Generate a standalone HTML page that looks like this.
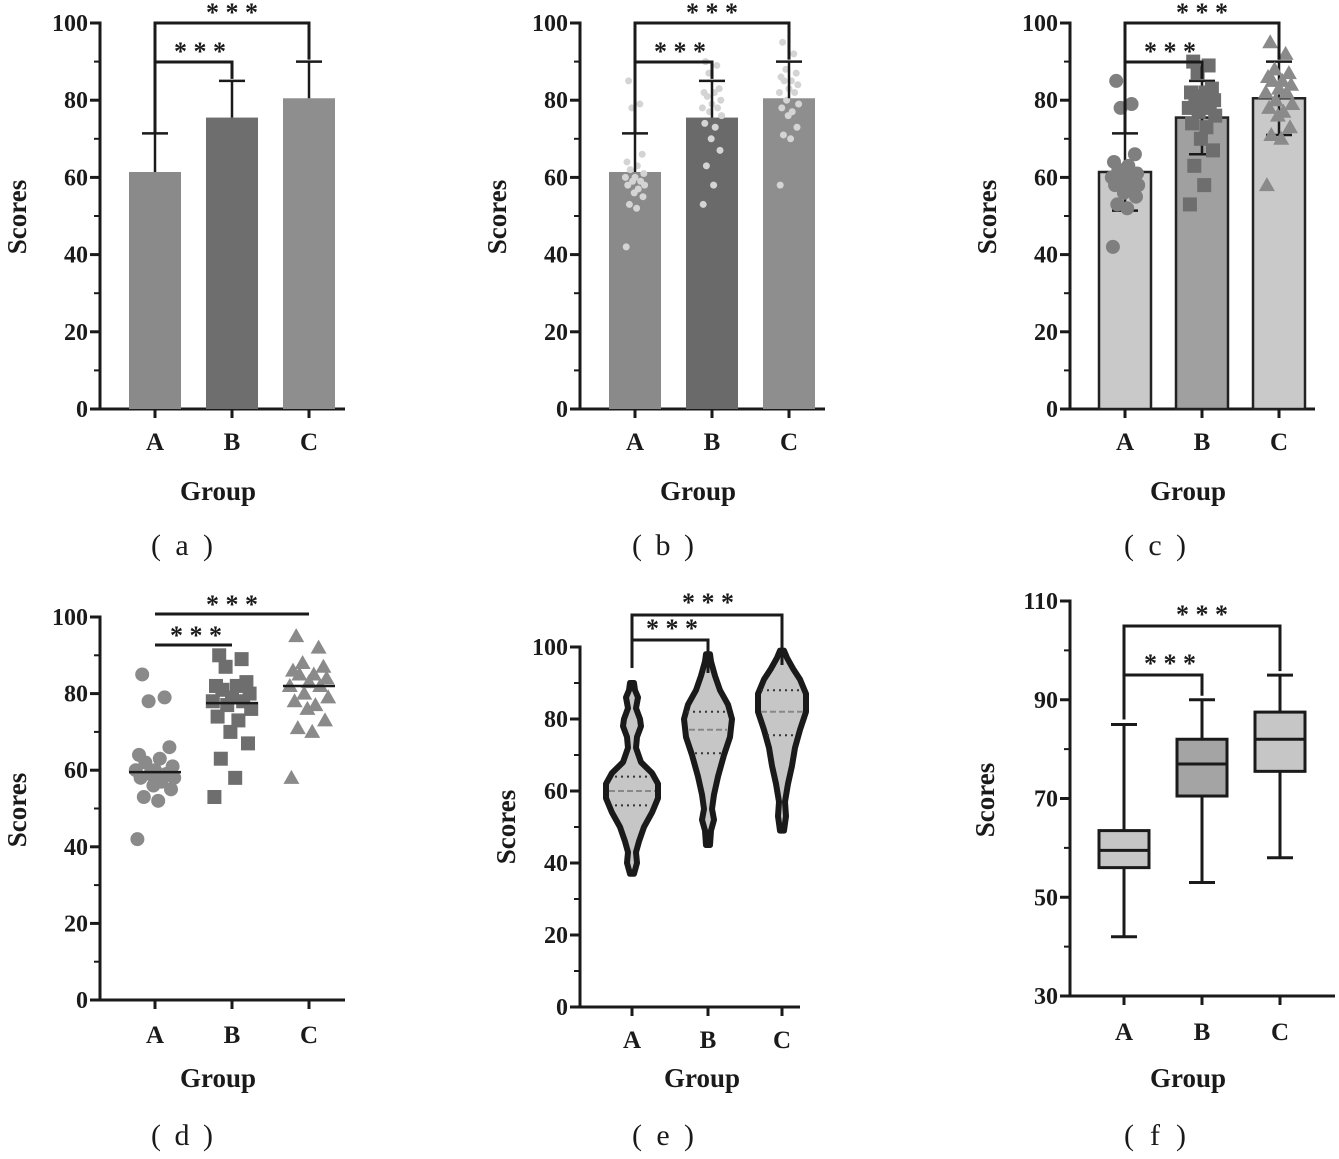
<!DOCTYPE html><html><head><meta charset="utf-8"><style>body{margin:0;background:#fff}svg{display:block}text{font-family:"Liberation Serif",serif;font-weight:bold;fill:#1a1a1a}</style></head><body>
<svg id="s" width="1339" height="1159" viewBox="0 0 1339 1159" xmlns="http://www.w3.org/2000/svg"></svg>
<script>
let o='';const S=document.getElementById('s');
function L(x1,y1,x2,y2,w=3,c='#1a1a1a',d=''){o+=`<line x1="${x1}" y1="${y1}" x2="${x2}" y2="${y2}" stroke="${c}" stroke-width="${w}" ${d?`stroke-dasharray="${d}"`:''}/>`}
function T(x,y,t,sz=22,a='middle',extra=''){o+=`<text x="${x}" y="${y}" font-size="${sz}" text-anchor="${a}" ${extra}>${t}</text>`}
function axes(ax,y0,yTop,xEnd,ticks,vmin,vmax,minor){
 const sc=(y0-yTop)/(vmax-vmin);
 L(ax,y0+1.5,ax,yTop-1.5,3);L(ax-1.5,y0,xEnd,y0,3);
 ticks.forEach(v=>{const y=y0-(v-vmin)*sc;L(ax-10,y,ax,y,3);T(ax-12,y+8,v,24,'end')});
 for(let v=vmin+minor;v<vmax;v+=minor){if(ticks.includes(v))continue;const y=y0-(v-vmin)*sc;L(ax-6,y,ax,y,2)}
 return v=>y0-(v-vmin)*sc;
}
function xlabels(xs,y0,ly){['A','B','C'].forEach((t,i)=>{L(xs[i],y0,xs[i],y0+9,3);T(xs[i],ly,t,25)})}
function labels(cx,gy,sx,sy,cap,cy,capx){T(cx,gy,'Group',27);o+=`<text x="${sx+12}" y="${sy}" font-size="27" text-anchor="middle" transform="rotate(-90 ${sx+12} ${sy})">Scores</text>`;
 o+=`<text x="${capx-26}" y="${cy}" font-size="30" style="font-weight:normal" text-anchor="middle">(</text><text x="${capx}" y="${cy}" font-size="30" style="font-weight:normal" text-anchor="middle">${cap}</text><text x="${capx+26}" y="${cy}" font-size="30" style="font-weight:normal" text-anchor="middle">)</text>`}
function stars(x,y){T(x,y,'* * *',26)}
function bracket(x1,y1,x2,y2,yb,w=3){o+=`<polyline points="${x1},${y1} ${x1},${yb} ${x2},${yb} ${x2},${y2}" fill="none" stroke="#1a1a1a" stroke-width="${w}"/>`}
const A=[85,79,78,66,64,63,62,61,60,60,59,59,58,58,57,56,55,53,52,42],
B=[90,89,87,83,82,82,81,80,79,78,78,77,76,74,73,70,67,63,58,53],
C=[95,92,88,87,86,85,85,84,83,82,82,80,79,78,77,76,73,71,70,58];
const jit=[-8,6,-4,9,-10,3,-6,11,0,-12,7,-3,12,-9,4,-1,10,-7,2,-11];
function barPanel(ax,type,capx){
 const y=axes(ax,409,23,ax+245,[0,20,40,60,80,100],0,100,10);
 const xs=[ax+55,ax+132,ax+209];
 const m=[61.4,75.5,80.5],sd=[10,9.5,9.5];
 const cols=type==0?['#8a8a8a','#6e6e6e','#8e8e8e']:type==1?['#8a8a8a','#6a6a6a','#8e8e8e']:['#c9c9c9','#a0a0a0','#c9c9c9'];
 xs.forEach((x,i)=>{o+=`<rect x="${x-26}" y="${y(m[i])}" width="52" height="${409-y(m[i])}" fill="${cols[i]}" ${type==2?'stroke="#222" stroke-width="2.5"':''}/>`});
 const data=[A,B,C];
 if(type==1){data.forEach((d,i)=>d.forEach((v,k)=>o+=`<circle cx="${xs[i]+jit[k]*0.8}" cy="${y(v)}" r="3.5" fill="#d4d4d4"/>`))}
 xs.forEach((x,i)=>{const t=y(m[i]+sd[i]);L(x,y(m[i]),x,t,2.5);L(x-13,t,x+13,t,2.5);if(type==2){const b=y(m[i]-sd[i]);L(x,y(m[i]),x,b,2.5);L(x-13,b,x+13,b,2.5)}});
 if(type==2){const mc=['#7f7f7f','#6e6e6e','#8a8a8a'];
  data.forEach((d,i)=>d.forEach((v,k)=>{const cx=xs[i]+jit[k]*1.1,cy=y(v);
   if(i==0)o+=`<circle cx="${cx}" cy="${cy}" r="7" fill="${mc[0]}"/>`;
   else if(i==1)o+=`<rect x="${cx-7}" y="${cy-7}" width="14" height="14" fill="${mc[1]}"/>`;
   else o+=`<polygon points="${cx},${cy-8} ${cx+8},${cy+6} ${cx-8},${cy+6}" fill="${mc[2]}"/>`}))}
 bracket(xs[0],y(71.4),xs[1],y(85)-2,62);bracket(xs[0],y(71.4),xs[2],y(90)-2,23);
 stars(ax+100,60);stars(ax+132,21);
 xlabels(xs,409,450);labels(ax+118,500,ax-86,217,['a','b','c'][type],555,capx);
}
barPanel(100,0,182);barPanel(580,1,663);barPanel(1070,2,1155);
{const ax=100,y=axes(ax,1000,617,ax+245,[0,20,40,60,80,100],0,100,10);const xs=[155,232,309];
 [A,B,C].forEach((d,i)=>d.forEach((v,k)=>{const cx=xs[i]+jit[k]*1.6,cy=y(v);
  if(i==0)o+=`<circle cx="${cx}" cy="${cy}" r="7" fill="#8a8a8a"/>`;
  else if(i==1)o+=`<rect x="${cx-7}" y="${cy-7}" width="14" height="14" fill="#6e6e6e"/>`;
  else o+=`<polygon points="${cx},${cy-8} ${cx+8},${cy+6} ${cx-8},${cy+6}" fill="#8a8a8a"/>`}));
 [59.5,77.5,82].forEach((v,i)=>L(xs[i]-26,y(v),xs[i]+26,y(v),2.5));
 L(155,645,232,645,3);L(155,614,309,614,3);stars(196,644);stars(232,613);
 xlabels(xs,1000,1043);labels(218,1087,14,810,'d',1145,182);}
{const ax=580,y=axes(ax,1007,647,ax+220,[0,20,40,60,80,100],0,100,10);const xs=[632,708,782];
 const P=[[[37,2],[40,5],[43,4],[46,7],[50,12],[54,20],[58,26],[62,26],[65,20],[68,9],[72,4],[75,5],[78,9],[80,8],[83,4],[86,6],[88,3],[90,2]],
 [[45,2],[49,3],[52,6],[55,4],[59,6],[64,10],[70,16],[75,22],[80,24],[84,20],[88,12],[92,7],[96,3],[98,2]],
 [[49,2],[53,4],[57,3],[62,6],[67,10],[72,13],[77,18],[82,24],[87,24],[91,18],[94,11],[97,5],[99,2]]];
 const q=[[56,60,64],[70.5,77,82],[75.5,82,88]];
 P.forEach((p,i)=>{const x=xs[i];let r=p.map(a=>`${x+a[1]},${y(a[0])}`),l=p.slice().reverse().map(a=>`${x-a[1]},${y(a[0])}`);
  o+=`<polygon points="${r.concat(l).join(' ')}" fill="#c6c6c6" stroke="#1a1a1a" stroke-width="6" stroke-linejoin="round"/>`;
  q[i].forEach((v,j)=>{const w=p.reduce((b,a)=>Math.abs(a[0]-v)<Math.abs(b[0]-v)?a:b)[1]-3;L(x-w,y(v),x+w,y(v),2,j==1?'#888':'#333',j==1?'6,3':'2,4')})});
 bracket(632,y(90)-15,708,y(90)-10,640);bracket(632,y(90)-15,782,y(95),615);stars(672,637);stars(708,611);
 xlabels(xs,1007,1048);labels(702,1087,503,827,'e',1145,663);}
{const ax=1070,y=axes(ax,996,601,ax+265,[30,50,70,90,110],30,110,10);const xs=[1124,1202,1280];
 const bx=[[42,56,59.5,63.5,85],[53,70.5,77,82,90],[58,75.5,82,87.5,95]],cols=['#c6c6c6','#a4a4a4','#c6c6c6'];
 bx.forEach((b,i)=>{const x=xs[i];L(x,y(b[0]),x,y(b[4]),3);L(x-13,y(b[0]),x+13,y(b[0]),3);L(x-13,y(b[4]),x+13,y(b[4]),3);
  o+=`<rect x="${x-25}" y="${y(b[3])}" width="50" height="${y(b[1])-y(b[3])}" fill="${cols[i]}" stroke="#1a1a1a" stroke-width="3"/>`;L(x-25,y(b[2]),x+25,y(b[2]),3)});
 bracket(1124,y(85)-5,1202,y(90)-4,675);bracket(1124,y(85)-5,1280,y(95)-4,626);stars(1170,672);stars(1202,623);
 xlabels(xs,996,1040);labels(1188,1087,982,800,'f',1145,1155);}
S.innerHTML=o;
</script></body></html>
